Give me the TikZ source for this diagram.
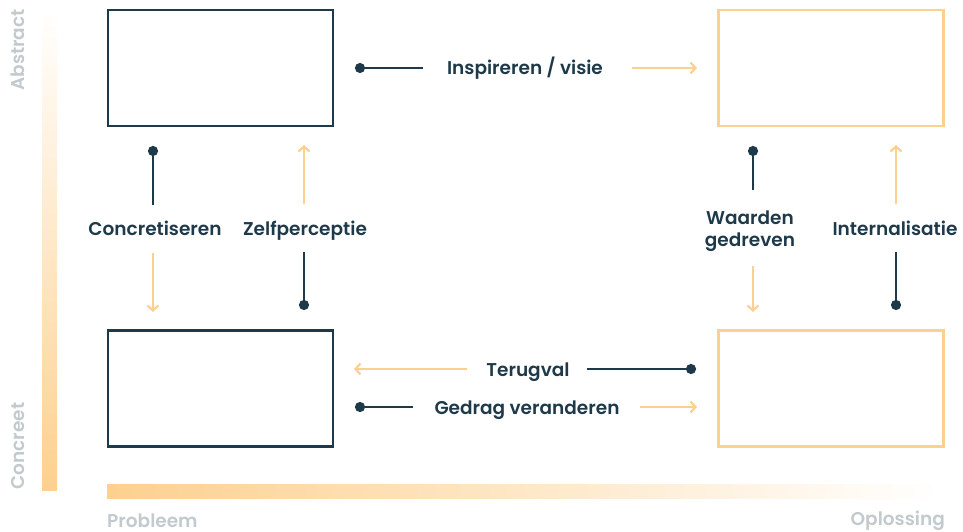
\documentclass[tikz,border=0pt]{standalone}
\usepackage{fontspec}
\setmainfont{Poppins}[UprightFont=* Medium, BoldFont=* SemiBold]
\usetikzlibrary{arrows.meta}
\definecolor{dark}{HTML}{1E3A4A}
\definecolor{peach}{HTML}{FDD08F}
\definecolor{axisgray}{HTML}{C2CACE}
\tikzset{
  x=1pt, y=-1pt,
  box/.style={draw, line width=2.4pt, minimum width=225pt, minimum height=116pt, inner sep=0pt},
  darkbox/.style={box, draw=dark},
  peachbox/.style={box, draw=peach},
  lbl/.style={text=dark, font=\fontsize{18.5}{22}\selectfont\bfseries, inner sep=0pt, align=center, anchor=base},
  axl/.style={text=axisgray, font=\fontsize{18.5}{22}\selectfont\bfseries, inner sep=0pt},
  darkline/.style={draw=dark, line width=2.8pt, {Circle[length=10pt]}-},
  peacharrow/.style={draw=peach, line width=2.2pt, -{Straight Barb[length=5pt,width=11pt,line width=2.2pt]}},
}
\begin{document}
\begin{tikzpicture}
\useasboundingbox (0,0) rectangle (963,532);
% axes
\shade[top color=white, bottom color=peach] (42,10) rectangle (57,490);
\shade[left color=peach, right color=white] (107,484) rectangle (940,498);
\node[axl, rotate=90, anchor=base] (abs) at (24,50) {Abstract};
\node[axl, rotate=90, anchor=base] (con) at (24,446) {Concreet};
\node[axl, anchor=base west] (prob) at (107,527) {Probleem};
\node[axl, anchor=base east] (opl) at (945,525) {Oplossing};
% boxes
\node[darkbox] (tl) at (220.5,68) {};
\node[peachbox] (tr) at (831,68) {};
\node[darkbox] (bl) at (220.5,388.5) {};
\node[peachbox] (br) at (831,388.5) {};
% labels
\node[lbl] (insp) at (525,75) {Inspireren / visie};
\node[lbl] (teru) at (528,376) {Terugval};
\node[lbl] (gedr) at (527,414) {Gedrag veranderen};
\node[lbl] (conc) at (155,235) {Concretiseren};
\node[lbl] (zelf) at (305,235) {Zelfperceptie};
\node[lbl] (waar) at (750,246) {Waarden\\gedreven};
\node[lbl] (intl) at (895,235) {Internalisatie};
% free ends
\coordinate (insp1) at (355,68); \coordinate (insp2) at (423,68);
\coordinate (insp3) at (632,68); \coordinate (insp4) at (697,68);
\coordinate (ter1) at (696,369); \coordinate (ter2) at (587,369);
\coordinate (ter3) at (467,369); \coordinate (ter4) at (354,369);
\coordinate (ged1) at (355,407); \coordinate (ged2) at (413,407);
\coordinate (ged3) at (640,407); \coordinate (ged4) at (697,407);
\coordinate (con1) at (153,146); \coordinate (con2) at (153,205);
\coordinate (con3) at (153,253); \coordinate (con4) at (153,312);
\coordinate (zel1) at (304,310); \coordinate (zel2) at (304,252);
\coordinate (zel3) at (304,204); \coordinate (zel4) at (304,145);
\coordinate (waa1) at (753,146); \coordinate (waa2) at (753,190);
\coordinate (waa3) at (753,266); \coordinate (waa4) at (753,312);
\coordinate (int1) at (896,310); \coordinate (int2) at (896,252);
\coordinate (int3) at (896,204); \coordinate (int4) at (896,145);
% connectors
\draw[darkline] (insp1) -- (insp2);
\draw[peacharrow] (insp3) -- (insp4);
\draw[darkline] (ter1) -- (ter2);
\draw[peacharrow] (ter3) -- (ter4);
\draw[darkline] (ged1) -- (ged2);
\draw[peacharrow] (ged3) -- (ged4);
\draw[darkline] (con1) -- (con2);
\draw[peacharrow] (con3) -- (con4);
\draw[darkline] (zel1) -- (zel2);
\draw[peacharrow] (zel3) -- (zel4);
\draw[darkline] (waa1) -- (waa2);
\draw[peacharrow] (waa3) -- (waa4);
\draw[darkline] (int1) -- (int2);
\draw[peacharrow] (int3) -- (int4);
\end{tikzpicture}
\end{document}
